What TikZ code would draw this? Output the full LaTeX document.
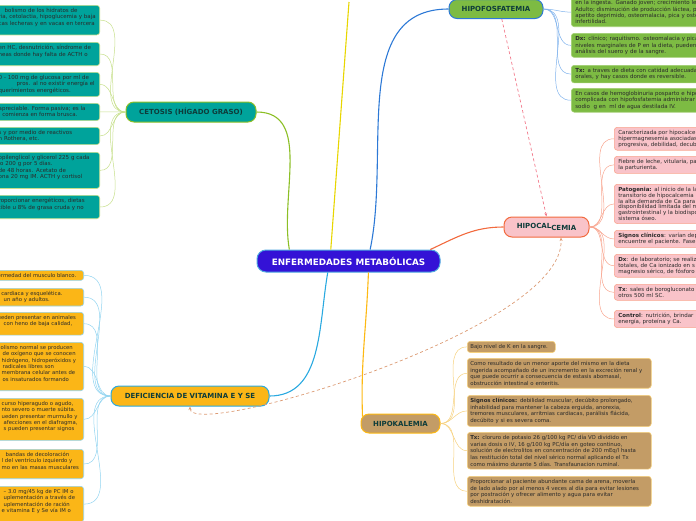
\documentclass[tikz,border=0pt]{standalone}
\usepackage{fontspec}
\setmainfont{DejaVu Sans}
\usepackage{xcolor}
\usetikzlibrary{positioning, arrows.meta, calc}

\definecolor{hubblue}{HTML}{3412D6}
\definecolor{hubrim}{HTML}{4FA8E0}
\definecolor{labelink}{HTML}{0E3C3A}
\definecolor{leafink}{HTML}{2A2A2A}
\definecolor{cetfill}{HTML}{00A39B}
\definecolor{cetedge}{HTML}{8CBF26}
\definecolor{cetrim}{HTML}{C6DF8A}
\definecolor{vitfill}{HTML}{FBB617}
\definecolor{vitedge}{HTML}{2AA9E0}
\definecolor{vitrim}{HTML}{92D4F0}
\definecolor{fosfill}{HTML}{7DBB43}
\definecolor{fosedge}{HTML}{2D79D6}
\definecolor{fosrim}{HTML}{A4CF74}
\definecolor{fostwig}{HTML}{7FB2EC}
\definecolor{calfill}{HTML}{F9C3C9}
\definecolor{caledge}{HTML}{F26A3E}
\definecolor{calrim}{HTML}{F8A58F}
\definecolor{kalfill}{HTML}{C39C66}
\definecolor{kaledge}{HTML}{FDB913}
\definecolor{kalrim}{HTML}{F6D17E}
\definecolor{upperline}{HTML}{E8D600}
\definecolor{pinkdash}{HTML}{F27B8C}
\definecolor{tandash}{HTML}{DC9B74}

\begin{document}
\begin{tikzpicture}[x=1pt, y=1pt,
    hub/.style={rectangle, rounded corners=9pt, fill=hubblue, draw=hubrim, line width=1pt,
                minimum width=183pt, minimum height=22pt, text=white,
                font=\fontsize{8.8}{10}\selectfont\bfseries},
    branch/.style={rectangle, rounded corners=8pt, line width=1pt, minimum height=20pt,
                   text=labelink, font=\fontsize{7}{8}\selectfont\bfseries},
    leaf/.style={rectangle, rounded corners=3pt, line width=0.6pt, align=left,
                 inner xsep=2pt, inner ysep=3pt, text=leafink,
                 font=\fontsize{5.5}{6.5}\selectfont},
    cetleaf/.style={leaf, fill=cetfill, draw=cetrim, text width=99pt, anchor=north east},
    vitleaf/.style={leaf, fill=vitfill, draw=vitrim, text width=84pt, anchor=north east,
                    font=\fontsize{5.3}{6.4}\selectfont},
    fosleaf/.style={leaf, fill=fosfill, draw=fosrim, text width=150pt, inner xsep=4pt,
                    anchor=north west, font=\fontsize{5.5}{6.3}\selectfont},
    calleaf/.style={leaf, fill=calfill, draw=calrim, text width=100pt, inner xsep=4pt,
                    anchor=north west, font=\fontsize{5.5}{5.8}\selectfont},
    kalleaf/.style={leaf, fill=kalfill, draw=kalrim, text width=178pt, inner xsep=3pt,
                    anchor=north west, font=\fontsize{5.4}{6.6}\selectfont},
    trunk/.style={line width=1.1pt},
    twig/.style={line width=0.5pt},
    xlink/.style={dashed, dash pattern=on 3pt off 2.5pt, line width=0.7pt},
]
\useasboundingbox (0,0) rectangle (696,-520);

% Central topic and main branches
\node[hub] (hub) at (348.5,-261) {ENFERMEDADES METABÓLICAS};
\node[branch, fill=cetfill, draw=cetedge, minimum width=130pt] (cet) at (191,-112) {CETOSIS (HÍGADO GRASO)};
\node[branch, fill=vitfill, draw=vitedge, minimum width=158pt] (vit) at (190,-396) {DEFICIENCIA DE VITAMINA E Y SE};
\node[branch, fill=fosfill, draw=fosedge, minimum width=94pt, minimum height=19pt] (fos) at (496,-9) {HIPOFOSFATEMIA};
\node[branch, fill=calfill, draw=caledge, minimum width=85pt] (cal) at (546.5,-227) {HIPOCAL\raisebox{-1.5pt}{CEMIA}};
\node[branch, fill=kalfill, draw=kaledge, minimum width=79pt, minimum height=19pt] (kal) at (400.5,-423.5) {HIPOKALEMIA};
\coordinate (upper) at (349,-2);

\draw[trunk, cetedge] (hub.169) to[out=100, in=0] (cet.east);
\draw[trunk, upperline] (hub.147) -- (upper);
\draw[trunk, fosedge] (hub.28) to[out=78, in=180] (fos.west);
\draw[trunk, caledge] (hub.8) to[out=25, in=180] (cal.west);
\draw[trunk, vitedge] (hub.209) to[out=-100, in=0] (vit.east);
\draw[trunk, kaledge] (hub.330) to[out=-92, in=92] ($(kal.north west)+(2,-3)$);

% Cetosis (left column, top)
\node[cetleaf] (cet1) at (100,-5) {\hspace*{6pt}bolismo de los hidratos de\\ria, cetolactia, hipoglucemia y baja\\cas lecheras y en vacas en tercera\\~};
\node[cetleaf] (cet2) at (100,-42) {en HC, desnutrición, síndrome de\\neas donde hay falta de ACTH o\\~};
\node[cetleaf] (cet3) at (100,-72) {0 - 100 mg de glucosa por ml de\\\hspace*{18pt}pros. al no existir energía el\\querimientos energéticos.};
\node[cetleaf] (cet4) at (100,-103) {apreciable. Forma pasiva; es la\\, comienza en forma brusca.};
\node[cetleaf] (cet5) at (100,-127) {s y por medio de reactivos\\n Rothera, etc.};
\node[cetleaf] (cet6) at (100,-152) {opilenglicol y glicerol 225 g cada\\io 200 g por 5 días.\\de 48 horas. Acetato de\\ona 20 mg IM. ACTH y cortisol\\~};
\node[cetleaf] (cet7) at (100,-195) {roporcionar energéticos, dietas\\tible u 8\% de grasa cruda y no\\~};
\draw[twig, cetrim] (cet.west) to[out=180, in=0] (cet1.east);
\draw[twig, cetrim] (cet.west) to[out=180, in=0] (cet2.east);
\draw[twig, cetrim] (cet.west) to[out=180, in=0] (cet3.east);
\draw[twig, cetrim] (cet.west) to[out=180, in=0] (cet4.east);
\draw[twig, cetrim] (cet.west) to[out=180, in=0] (cet5.east);
\draw[twig, cetrim] (cet.west) to[out=180, in=0] (cet6.east);
\draw[twig, cetrim] (cet.west) to[out=180, in=0] (cet7.east);

% Vitamina E y Se (left column, bottom)
\node[vitleaf] (vit1) at (84,-270) {ermedad del musculo blanco.};
\node[vitleaf] (vit2) at (84,-288) {; cardiaca y esquelética.\\\hspace*{6pt}un año y adultos.};
\node[vitleaf] (vit3) at (84,-312) {ueden presentar en animales\\\hspace*{6pt}con heno de baja calidad,\\~};
\node[vitleaf] (vit4) at (84,-342) {colismo normal se producen\\\hspace*{5pt}de oxígeno que se conocen\\\hspace*{4pt}hidrógeno, hidroperóxidos y\\\hspace*{5pt}radicales libres son\\\hspace*{4pt}membrana celular antes de\\\hspace*{5pt}os insaturados formando\\~};
\node[vitleaf] (vit5) at (84,-398) {\hspace*{4pt}curso hiperagudo o agudo,\\\hspace*{4pt}nto severo o muerte súbita.\\\hspace*{4pt}ueden presentar murmullo y\\\hspace*{6pt}afecciones en el diafragma,\\\hspace*{6pt}s pueden presentar signos\\~};
\node[vitleaf] (vit6) at (84,-449) {\hspace*{8pt}bandas de decoloración\\\hspace*{4pt}l del ventrículo izquierdo y\\\hspace*{4pt}mo en las masas musculares\\~};
\node[vitleaf] (vit7) at (84,-486) {\hspace*{6pt}– 3.0 mg/45 kg de PC IM o\\\hspace*{6pt}uplementación a través de\\\hspace*{6pt}uplementación de ración\\\hspace*{4pt}e vitamina E y Se vía IM o\\~};
\draw[twig, vitrim] (vit.west) to[out=180, in=0] (vit1.east);
\draw[twig, vitrim] (vit.west) to[out=180, in=0] (vit2.east);
\draw[twig, vitrim] (vit.west) to[out=180, in=0] (vit3.east);
\draw[twig, vitrim] (vit.west) to[out=180, in=0] (vit4.east);
\draw[twig, vitrim] (vit.west) to[out=180, in=0] (vit5.east);
\draw[twig, vitrim] (vit.west) to[out=180, in=0] (vit6.east);
\draw[twig, vitrim] (vit.west) to[out=180, in=0] (vit7.east);

% Hipofosfatemia (top right)
\node[fosleaf, anchor=south west] (fos1) at (571,-27) {en la ingesta. Ganado joven; crecimiento le\\Adulto; disminución de producción láctea, p\\apetito deprimido, osteomalacia, pica y oste\\infertilidad.};
\node[fosleaf] (fos2) at (571,-33) {\textbf{Dx:} clínico; raquitismo. osteomalacia y pica.\\niveles marginales de P en la dieta, pueden\\análisis del suero y de la sangre.};
\node[fosleaf] (fos3) at (571,-65) {\textbf{Tx:} a traves de dieta con catidad adecuada\\orales, y hay casos donde es reversible.};
\node[fosleaf] (fos4) at (571,-88) {En casos de hemoglobinuria posparto e hipo\\complicada con hipofosfatemia administrar\\sodio\ \ g en\ \ ml de agua destilada IV.};
\draw[twig, fostwig] (fos.east) to[out=0, in=180] (fos1.west);
\draw[twig, fostwig] (fos.east) to[out=0, in=180] (fos2.west);
\draw[twig, fostwig] (fos.east) to[out=0, in=180] (fos3.west);
\draw[twig, fostwig] (fos.east) to[out=0, in=180] (fos4.west);

% Hipocalcemia (right)
\node[calleaf] (cal1) at (614,-127) {Caracterizada por hipocalce\\hipermagnesemia asociadas\\progresiva, debilidad, decub};
\node[calleaf] (cal2) at (614,-156) {Fiebre de leche, vitularia, pa\\la parturienta.};
\node[calleaf] (cal3) at (614,-184) {\textbf{Patogenia:} al inicio de la la\\transitorio de hipocalcemia\\la alta demanda de Ca para\\disponibilidad limitada del m\\gastrointestinal y la biodispo\\sistema óseo.};
\node[calleaf] (cal4) at (614,-230) {\textbf{Signos clínicos}: varían dep\\encuentre el paciente. Fase};
\node[calleaf] (cal5) at (614,-254) {\textbf{Dx}: de laboratorio; se realiz\\totales, de Ca ionizado en s\\magnesio sérico, de fósforo};
\node[calleaf] (cal6) at (614,-284) {\textbf{Tx}: sales de borogluconato\\otros 500 ml SC.};
\node[calleaf] (cal7) at (614,-310) {\textbf{Control}: nutrición, brindar\\energía, proteína y Ca.};
\draw[twig, calrim] (cal.east) to[out=0, in=180] (cal1.west);
\draw[twig, calrim] (cal.east) to[out=0, in=180] (cal2.west);
\draw[twig, calrim] (cal.east) to[out=0, in=180] (cal3.west);
\draw[twig, calrim] (cal.east) to[out=0, in=180] (cal4.west);
\draw[twig, calrim] (cal.east) to[out=0, in=180] (cal5.west);
\draw[twig, calrim] (cal.east) to[out=0, in=180] (cal6.west);
\draw[twig, calrim] (cal.east) to[out=0, in=180] (cal7.west);

% Hipokalemia (bottom)
\node[kalleaf, text width=82pt] (kal1) at (467,-341) {Bajo nivel de K en la sangre.};
\node[kalleaf] (kal2) at (467,-358) {Como resultado de un menor aporte del mismo en la dieta\\ingerida acompañado de un incremento en la excreción renal y\\que puede ocurrir a consecuencia de estasis abomasal,\\obstrucción intestinal o enteritis.};
\node[kalleaf] (kal3) at (467,-395) {\textbf{Signos clínicos:} debilidad muscular, decúbito prolongado,\\inhabilidad para mantener la cabeza erguida, anorexia,\\tremores musculares, arritmias cardiacas, parálisis flácida,\\decúbito y si es severa coma.};
\node[kalleaf] (kal4) at (467,-432) {\textbf{Tx:} cloruro de potasio 26 g/100 kg PC/ día VO dividido en\\varias dosis o IV, 16 g/100 kg PC/día en goteo continuo,\\solución de electrolitos en concentración de 200 mEq/l hasta\\las restitución total del nivel sérico normal aplicando el Tx\\como máximo durante 5 días. Transfaunacion ruminal.};
\node[kalleaf] (kal5) at (467,-476) {Proporcionar al paciente abundante cama de arena, moverla\\de lado alado por al menos 4 veces al día para evitar lesiones\\por postración y ofrecer alimento y agua para evitar\\deshidratación.};
\draw[twig, kalrim] (kal.east) to[out=0, in=180] (kal1.west);
\draw[twig, kalrim] (kal.east) to[out=0, in=180] (kal2.west);
\draw[twig, kalrim] (kal.east) to[out=0, in=180] (kal3.west);
\draw[twig, kalrim] (kal.east) to[out=0, in=180] (kal4.west);
\draw[twig, kalrim] (kal.east) to[out=0, in=180] (kal5.west);

% Cross links
\draw[xlink, pinkdash, -{Stealth[length=3.5pt, width=3pt]}] (fos.-60) -- (cal.north);
\draw[xlink, tandash, {Stealth[length=3.5pt, width=3pt]}-{Stealth[length=3.5pt, width=3pt]}]
    (vit.south) .. controls +(0,-34) and +(5,-92) .. (cal.-36);

\end{tikzpicture}
\end{document}
